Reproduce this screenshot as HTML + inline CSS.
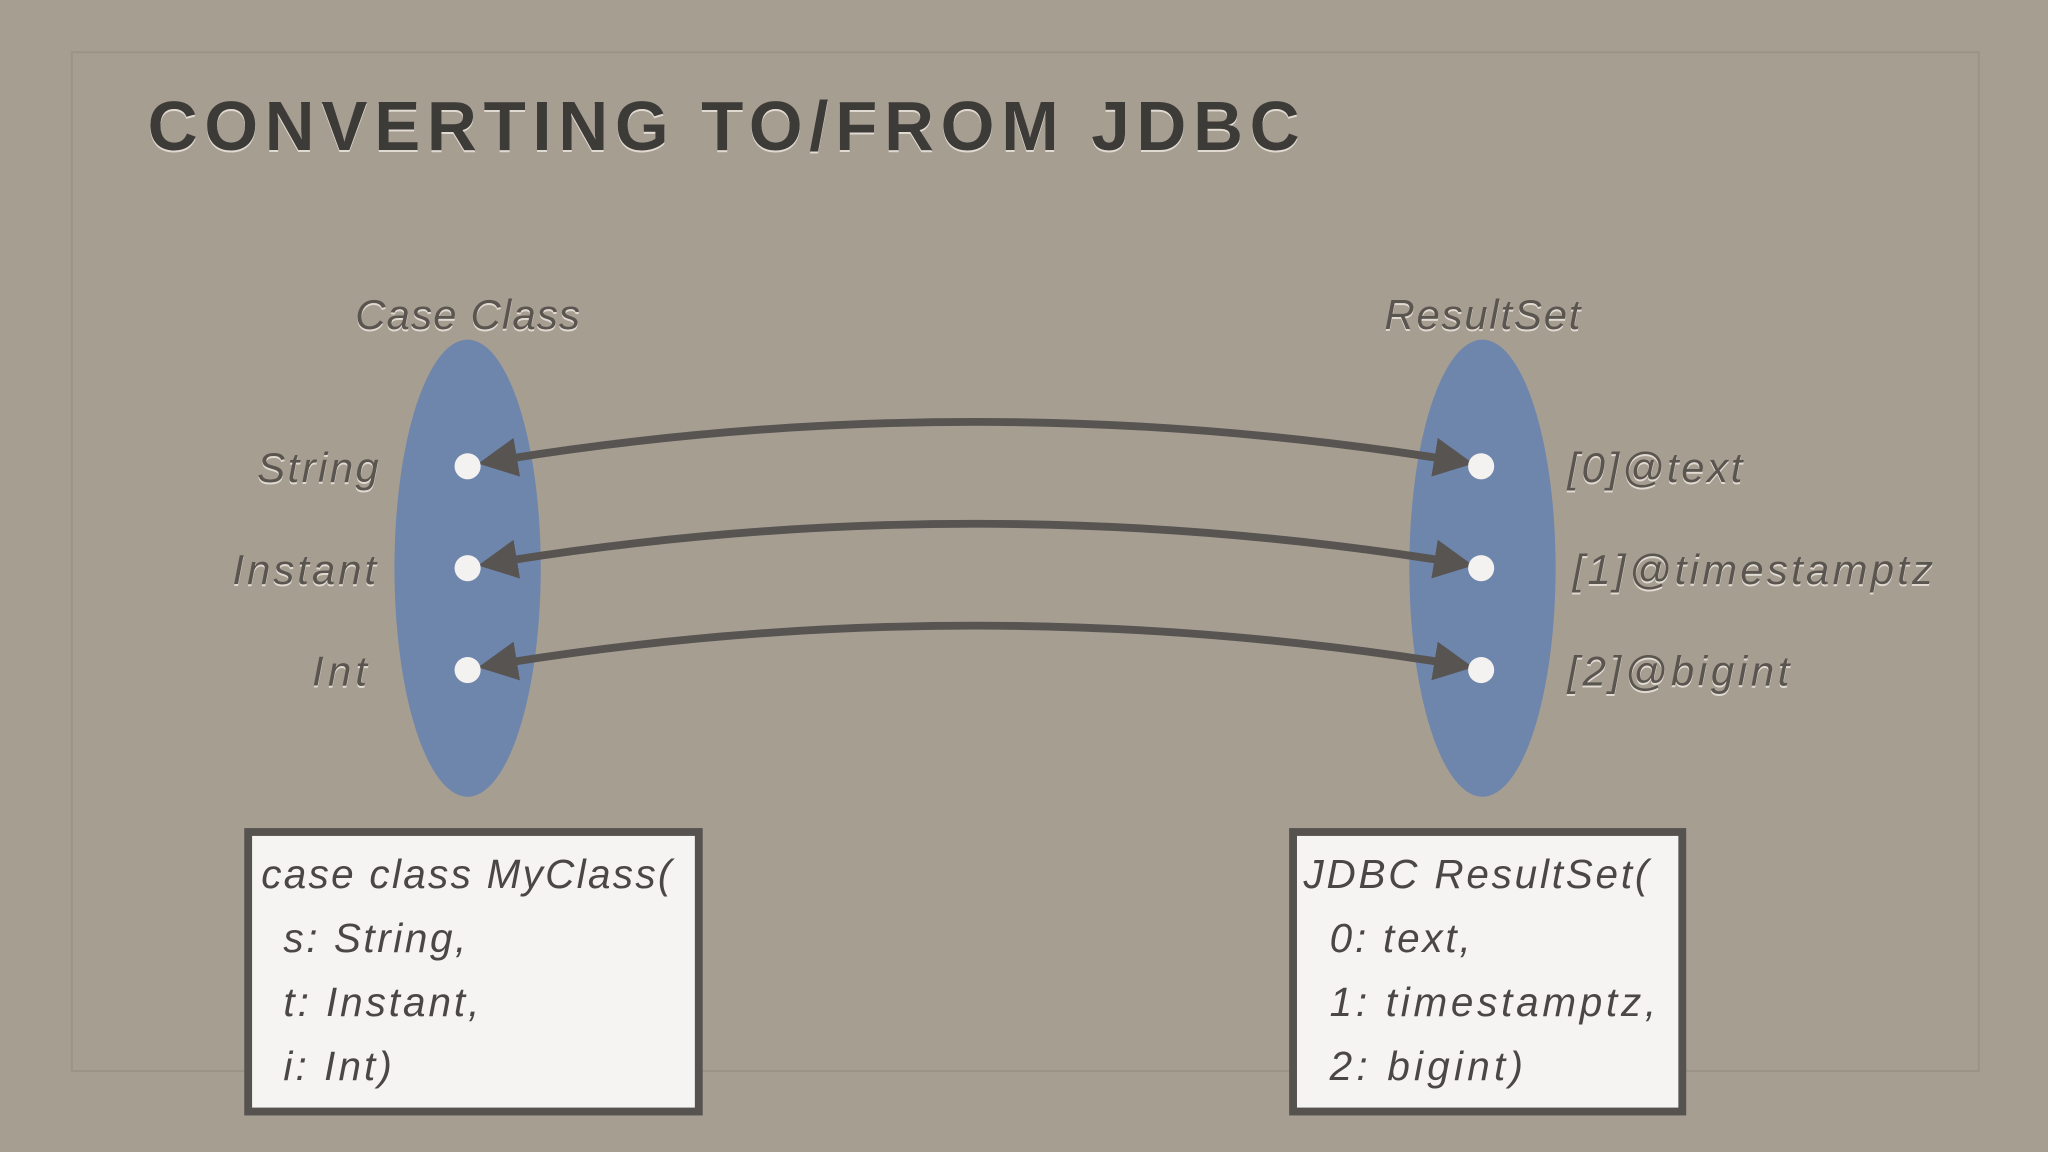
<!DOCTYPE html>
<html><head><meta charset="utf-8"><style>
html,body{margin:0;padding:0;width:2048px;height:1152px;overflow:hidden;background:#a79e92;}
svg{display:block}
text{font-family:"Liberation Sans",sans-serif;}
</style></head><body>
<svg width="2048" height="1152" viewBox="0 0 1568 882" xmlns="http://www.w3.org/2000/svg">
<defs>
<marker id="ah" viewBox="0 0 10 10" refX="8" refY="5" markerWidth="5" markerHeight="5" orient="auto-start-reverse" markerUnits="strokeWidth">
<path d="M0,0 L10,5 L0,10 z" fill="#575452"/></marker>
<filter id="sh"><feDropShadow dx="0" dy="1.5" stdDeviation="0.3" flood-color="#e8e2da" flood-opacity="0.9"/></filter>
</defs>
<rect width="1568" height="882" fill="#a79e92"/>
<rect x="55" y="40" width="1460" height="780" fill="none" stroke="#9c9387" stroke-width="1.5"/>
<text x="113" y="115" font-size="53" font-weight="bold" fill="#3e3b38" letter-spacing="5" filter="url(#sh)" textLength="887">CONVERTING TO/FROM JDBC</text>
<ellipse cx="358" cy="435" rx="56" ry="175" fill="#6e85ac"/>
<ellipse cx="1135" cy="435" rx="56" ry="175" fill="#6e85ac"/>
<g font-style="italic" font-size="32" fill="#5a5550" filter="url(#sh)">
<text x="272" y="252" textLength="172">Case Class</text>
<text x="1060" y="252" textLength="150">ResultSet</text>
<text x="197" y="369" textLength="93">String</text>
<text x="178" y="447" textLength="110">Instant</text>
<text x="239" y="525" textLength="42">Int</text>
<text x="1200" y="369" textLength="134">[0]@text</text>
<text x="1204" y="447" textLength="276">[1]@timestamptz</text>
<text x="1200" y="525" textLength="170">[2]@bigint</text>
</g>
<g fill="none" stroke="#575452" stroke-width="6" marker-start="url(#ah)" marker-end="url(#ah)">
<path d="M372,354 Q746,292 1122,354"/>
<path d="M372,432 Q746,370 1122,432"/>
<path d="M372,510 Q746,448 1122,510"/>
</g>
<g fill="#f4f2f0">
<circle cx="358" cy="357" r="10"/><circle cx="358" cy="435" r="10"/><circle cx="358" cy="513" r="10"/>
<circle cx="1134" cy="357" r="10"/><circle cx="1134" cy="435" r="10"/><circle cx="1134" cy="513" r="10"/>
</g>
<rect x="190" y="637" width="345" height="214" fill="#f6f4f2" stroke="#555250" stroke-width="6"/>
<rect x="990" y="637" width="298" height="214" fill="#f6f4f2" stroke="#555250" stroke-width="6"/>
<g font-style="italic" font-size="31" fill="#4a4745">
<text x="200" y="680" textLength="314">case class MyClass(</text>
<text x="217" y="729" textLength="140">s: String,</text>
<text x="217" y="778" textLength="150">t: Instant,</text>
<text x="217" y="827" textLength="83">i: Int)</text>
<text x="998" y="680" textLength="264">JDBC ResultSet(</text>
<text x="1018" y="729" textLength="108">0: text,</text>
<text x="1018" y="778" textLength="250">1: timestamptz,</text>
<text x="1018" y="827" textLength="148">2: bigint)</text>
</g>
</svg>
</body></html>
